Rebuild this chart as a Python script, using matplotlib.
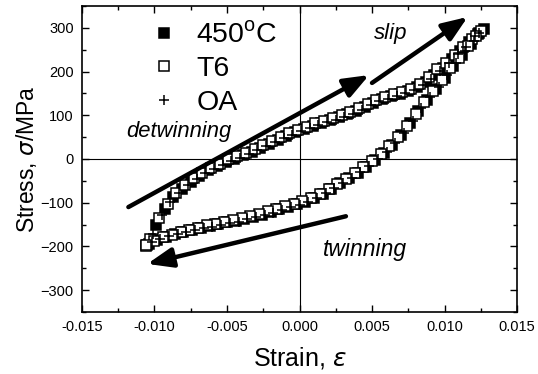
import matplotlib
matplotlib.use("Agg")
import matplotlib.pyplot as plt

plt.rcParams["font.family"] = ["Liberation Sans", "DejaVu Sans"]
plt.rcParams["mathtext.fontset"] = "dejavusans"

# --- loading branch (compression -> tension) ---
strain_up_450 = [-0.0105, -0.0099, -0.0093, -0.0087, -0.0081, -0.0075, -0.0069, -0.0063,
                 -0.0057, -0.0051, -0.0045, -0.0039, -0.0033, -0.0027, -0.0021, -0.0015,
                 -0.0009, -0.0003, 0.0003, 0.0009, 0.0015, 0.0021, 0.0027, 0.0033,
                 0.0039, 0.0045, 0.0051, 0.0057, 0.0063, 0.0069, 0.0075, 0.0081,
                 0.0087, 0.0093, 0.0099, 0.0105, 0.0111, 0.0117, 0.0123, 0.0127]
stress_up_450 = [-197, -152, -114, -88, -68, -52, -38, -26, -16, -7, 1, 8, 17, 26, 35, 44,
                 53, 61, 69, 76, 83, 89, 95, 102, 110, 120, 129, 137, 143, 149, 156, 165,
                 176, 192, 209, 228, 248, 268, 286, 298]

strain_up_T6 = [-0.0106, -0.0103, -0.0097, -0.0091, -0.0085, -0.0079, -0.0073, -0.0067,
                -0.0061, -0.0055, -0.0049, -0.0043, -0.0037, -0.0031, -0.0025, -0.0019,
                -0.0013, -0.0007, -0.0001, 0.0005, 0.0011, 0.0017, 0.0023, 0.0029,
                0.0035, 0.0041, 0.0047, 0.0053, 0.0059, 0.0065, 0.0071, 0.0077,
                0.0083, 0.0089, 0.0095, 0.0101, 0.0107, 0.0113, 0.0119, 0.0125]
stress_up_T6 = [-198, -184, -136, -102, -78, -59, -43, -31, -20, -11, -1, 6, 14, 23, 33, 42,
                51, 59, 67, 74, 82, 88, 94, 100, 108, 116, 126, 135, 141, 148, 154, 161,
                171, 187, 206, 220, 238, 256, 274, 293]

strain_up_OA = [-0.0101, -0.0095, -0.0089, -0.0083, -0.0077, -0.0071, -0.0065, -0.0059,
                -0.0053, -0.0047, -0.0041, -0.0035, -0.0029, -0.0023, -0.0017, -0.0011,
                -0.0005, 0.0001, 0.0007, 0.0013, 0.0019, 0.0025, 0.0031, 0.0037,
                0.0043, 0.0049, 0.0055, 0.0061, 0.0067, 0.0073, 0.0079, 0.0085,
                0.0091, 0.0097, 0.0103, 0.0109, 0.0115, 0.0121, 0.0124]
stress_up_OA = [-171, -128, -99, -77, -60, -45, -33, -22, -13, -4, 3, 11, 20, 30, 39, 47,
                56, 63, 70, 78, 84, 90, 96, 104, 113, 123, 132, 138, 144, 150, 158, 169,
                183, 201, 220, 240, 257, 281, 289]

# --- unloading branch (tension -> compression) ---
strain_down_450 = [0.0124, 0.0118, 0.0112, 0.0106, 0.0100, 0.0094, 0.0088, 0.0082,
                   0.0076, 0.0070, 0.0064, 0.0058, 0.0052, 0.0046, 0.0040, 0.0034,
                   0.0028, 0.0022, 0.0016, 0.0010, 0.0004, -0.0002, -0.0008, -0.0014,
                   -0.0020, -0.0026, -0.0032, -0.0038, -0.0044, -0.0050, -0.0056, -0.0062,
                   -0.0068, -0.0074, -0.0080, -0.0086, -0.0092, -0.0098, -0.0104]
stress_down_450 = [288, 264, 239, 212, 186, 160, 135, 110, 82, 55, 33, 13, -3, -18, -31, -44,
                   -56, -68, -79, -89, -98, -104, -109, -115, -122, -127, -132, -137, -141, -145,
                   -149, -153, -158, -162, -167, -172, -178, -185, -195]

strain_down_T6 = [0.0122, 0.0116, 0.0110, 0.0104, 0.0098, 0.0092, 0.0086, 0.0080,
                  0.0074, 0.0068, 0.0062, 0.0056, 0.0050, 0.0044, 0.0038, 0.0032,
                  0.0026, 0.0020, 0.0014, 0.0008, 0.0002, -0.0004, -0.0010, -0.0016,
                  -0.0022, -0.0028, -0.0034, -0.0040, -0.0046, -0.0052, -0.0058, -0.0064,
                  -0.0070, -0.0076, -0.0082, -0.0088, -0.0094, -0.0100, -0.0106]
stress_down_T6 = [281, 258, 232, 207, 180, 155, 130, 104, 75, 50, 29, 11, -5, -19, -32, -45,
                  -57, -69, -79, -89, -97, -102, -108, -114, -120, -125, -130, -135, -140, -144,
                  -148, -152, -157, -162, -167, -173, -179, -188, -197]

strain_down_OA = [0.0120, 0.0114, 0.0108, 0.0102, 0.0096, 0.0090, 0.0084, 0.0078,
                  0.0072, 0.0066, 0.0060, 0.0054, 0.0048, 0.0042, 0.0036, 0.0030,
                  0.0024, 0.0018, 0.0012, 0.0006, 0.0000, -0.0006, -0.0012, -0.0018,
                  -0.0024, -0.0030, -0.0036, -0.0042, -0.0048, -0.0054, -0.0060, -0.0066,
                  -0.0072, -0.0078, -0.0084, -0.0090, -0.0096, -0.0102]
stress_down_OA = [271, 247, 219, 192, 165, 141, 116, 88, 60, 37, 16, -1, -16, -29, -43, -55,
                  -67, -78, -89, -98, -105, -110, -116, -123, -128, -133, -138, -143, -147, -151,
                  -155, -159, -163, -167, -171, -176, -182, -191]

fig = plt.figure(figsize=(5.38, 3.74), dpi=100)
ax = fig.add_axes([0.1524, 0.1658, 0.8086, 0.8182])

ax.axhline(0, color="k", lw=0.8, zorder=1)
ax.axvline(0, color="k", lw=0.8, zorder=1)

ms = 7.3
series = [
    ("450$^\\mathregular{o}$C", strain_up_450, stress_up_450, strain_down_450, stress_down_450,
     dict(marker="s", mfc="k", mec="k")),
    ("T6", strain_up_T6, stress_up_T6, strain_down_T6, stress_down_T6,
     dict(marker="s", mfc="white", mec="k")),
    ("OA", strain_up_OA, stress_up_OA, strain_down_OA, stress_down_OA,
     dict(marker="+", mfc="k", mec="k")),
]
for label, xu, yu, xd, yd, style in series:
    ax.plot(xu + xd, yu + yd, ls="none", ms=ms, mew=1.1, label=label, zorder=3, **style)

# deformation-mode arrows
arrow = dict(arrowstyle="-|>,head_length=0.9,head_width=0.35", lw=3.2, color="k",
             shrinkA=0, shrinkB=0, mutation_scale=17)
ax.annotate("", xy=(0.0048, 192), xytext=(-0.0118, -110), arrowprops=arrow, zorder=4)
ax.annotate("", xy=(0.0116, 325), xytext=(0.0050, 174), arrowprops=arrow, zorder=4)
ax.annotate("", xy=(-0.0105, -240), xytext=(0.0032, -131), arrowprops=arrow, zorder=4)

ax.text(-0.0083, 62, "detwinning", style="italic", fontsize=15.8, ha="center", va="center")
ax.text(0.0063, 286, "slip", style="italic", fontsize=16, ha="center", va="center")
ax.text(0.0045, -206, "twinning", style="italic", fontsize=16.5, ha="center", va="center")

ax.set_xlim(-0.015, 0.015)
ax.set_ylim(-350, 350)
ax.set_xticks([-0.015, -0.010, -0.005, 0.0, 0.005, 0.010, 0.015])
ax.set_xticklabels(["-0.015", "-0.010", "-0.005", "0.000", "0.005", "0.010", "0.015"])
ax.set_yticks([-300, -200, -100, 0, 100, 200, 300])
ax.set_xticks([-0.0125, -0.0075, -0.0025, 0.0025, 0.0075, 0.0125], minor=True)
ax.set_yticks([-350, -250, -150, -50, 50, 150, 250, 350], minor=True)
ax.tick_params(which="both", direction="in", top=True, right=True, labelsize=10.5, width=1.0)
ax.tick_params(which="major", length=5, pad=6)
ax.tick_params(which="minor", length=3)
for s in ax.spines.values():
    s.set_linewidth(1.2)

ax.set_xlabel("Strain, $\\varepsilon$", fontsize=18, labelpad=8)
ax.set_ylabel("Stress, $\\sigma$/MPa", fontsize=16.5, labelpad=1)

ax.legend(loc="upper left", bbox_to_anchor=(0.133, 0.984), frameon=False, fontsize=20.5,
          handletextpad=0.68, labelspacing=0.26, handlelength=0.9, borderaxespad=0.0,
          markerscale=1.0)

fig.savefig("out.png", dpi=100)
